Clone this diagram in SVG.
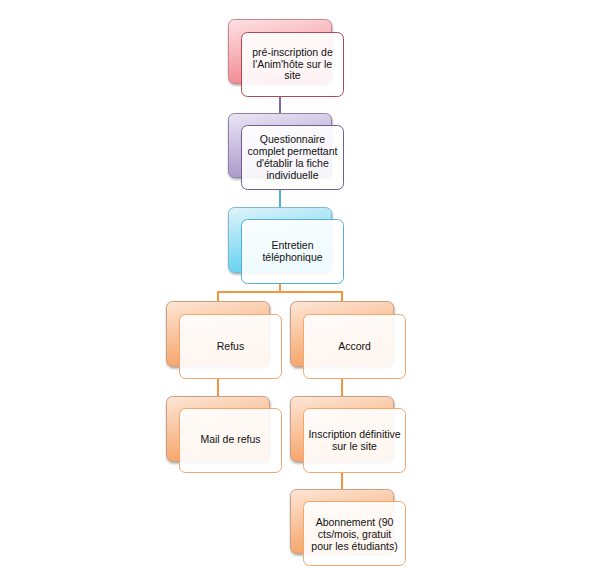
<svg xmlns="http://www.w3.org/2000/svg" width="599" height="574" viewBox="0 0 599 574">
<defs>
  <linearGradient id="gRed" x1="0" y1="0" x2="0.3" y2="1">
    <stop offset="0" stop-color="#fde3e5"/>
    <stop offset="1" stop-color="#f2868f"/>
  </linearGradient>
  <linearGradient id="gPur" x1="0" y1="0" x2="0.3" y2="1">
    <stop offset="0" stop-color="#ece6f4"/>
    <stop offset="1" stop-color="#a696cb"/>
  </linearGradient>
  <linearGradient id="gBlu" x1="0" y1="0" x2="0.3" y2="1">
    <stop offset="0" stop-color="#e0f4fa"/>
    <stop offset="1" stop-color="#5fd0f0"/>
  </linearGradient>
  <linearGradient id="gOra" x1="0" y1="0" x2="0.3" y2="1">
    <stop offset="0" stop-color="#fde6d6"/>
    <stop offset="1" stop-color="#f6a265"/>
  </linearGradient>
  <filter id="sh" x="-10%" y="-10%" width="130%" height="130%">
    <feDropShadow dx="0.5" dy="1.5" stdDeviation="1.2" flood-color="#000" flood-opacity="0.35"/>
  </filter>
</defs>
<style>
  .back { stroke-width: 1; filter: url(#sh); }
  .front { fill: #ffffff; fill-opacity: 0.9; stroke-width: 1; }
  .t { font-family: "Liberation Sans", Arial, sans-serif; font-size: 10.5px; fill: #111111; text-anchor: middle; }
  .c { fill: none; stroke-width: 2; }
</style>
<rect width="599" height="574" fill="#ffffff"/>

<g id="connectors">
  <line class="c" x1="280" y1="96" x2="280" y2="113" stroke="#7e6a9c"/>
  <line class="c" x1="280" y1="190" x2="280" y2="207" stroke="#4fb2d2"/>
  <polyline class="c" points="280,284 280,292 218,292 218,302" stroke="#f5963f"/>
  <polyline class="c" points="280,292 342,292 342,302" stroke="#f5963f"/>
  <line class="c" x1="218" y1="378" x2="218" y2="397" stroke="#f5963f"/>
  <line class="c" x1="342" y1="378" x2="342" y2="397" stroke="#f5963f"/>
  <line class="c" x1="342" y1="472" x2="342" y2="490" stroke="#f5963f"/>
</g>

<g id="node-preinscription">
  <rect class="back" x="228.5" y="19.5" width="103" height="64" rx="6" fill="url(#gRed)" stroke="#c4868c"/>
  <rect class="front" x="241.5" y="32.5" width="102" height="64" rx="6" stroke="#b04854"/>
  <text class="t" x="292.5" y="56">pré-inscription de</text>
  <text class="t" x="292.5" y="67.5">l'Anim'hôte sur le</text>
  <text class="t" x="292.5" y="79">site</text>
</g>

<g id="node-questionnaire">
  <rect class="back" x="228.5" y="113.5" width="103" height="64" rx="6" fill="url(#gPur)" stroke="#8e82a4"/>
  <rect class="front" x="241.5" y="125.5" width="102" height="64" rx="6" stroke="#6e5e94"/>
  <text class="t" x="292.5" y="143">Questionnaire</text>
  <text class="t" x="292.5" y="155">complet permettant</text>
  <text class="t" x="292.5" y="167">d'établir la fiche</text>
  <text class="t" x="292.5" y="179">individuelle</text>
</g>

<g id="node-entretien">
  <rect class="back" x="228.5" y="207.5" width="103" height="65" rx="6" fill="url(#gBlu)" stroke="#7fb8cc"/>
  <rect class="front" x="241.5" y="219.5" width="102" height="64" rx="6" stroke="#52b0d0"/>
  <text class="t" x="292.5" y="249">Entretien</text>
  <text class="t" x="292.5" y="261">téléphonique</text>
</g>

<g id="node-refus">
  <rect class="back" x="166.5" y="301.5" width="103" height="65" rx="6" fill="url(#gOra)" stroke="#c8a088"/>
  <rect class="front" x="179.5" y="314.5" width="102" height="64" rx="6" stroke="#f2a86c"/>
  <text class="t" x="230.5" y="349.5">Refus</text>
</g>

<g id="node-accord">
  <rect class="back" x="290.5" y="301.5" width="103" height="65" rx="6" fill="url(#gOra)" stroke="#c8a088"/>
  <rect class="front" x="303.5" y="314.5" width="102" height="64" rx="6" stroke="#f2a86c"/>
  <text class="t" x="354.5" y="349.5">Accord</text>
</g>

<g id="node-mail-refus">
  <rect class="back" x="166.5" y="396.5" width="103" height="65" rx="6" fill="url(#gOra)" stroke="#c8a088"/>
  <rect class="front" x="179.5" y="408.5" width="102" height="64" rx="6" stroke="#f2a86c"/>
  <text class="t" x="230.5" y="443">Mail de refus</text>
</g>

<g id="node-inscription">
  <rect class="back" x="290.5" y="396.5" width="103" height="65" rx="6" fill="url(#gOra)" stroke="#c8a088"/>
  <rect class="front" x="303.5" y="408.5" width="102" height="64" rx="6" stroke="#f2a86c"/>
  <text class="t" x="354.5" y="437.5">Inscription définitive</text>
  <text class="t" x="354.5" y="449.5">sur le site</text>
</g>

<g id="node-abonnement">
  <rect class="back" x="290.5" y="489.5" width="103" height="64" rx="6" fill="url(#gOra)" stroke="#c8a088"/>
  <rect class="front" x="303.5" y="501.5" width="102" height="64" rx="6" stroke="#f2a86c"/>
  <text class="t" x="354.5" y="526">Abonnement (90</text>
  <text class="t" x="354.5" y="538">cts/mois, gratuit</text>
  <text class="t" x="354.5" y="550">pour les étudiants)</text>
</g>
</svg>
